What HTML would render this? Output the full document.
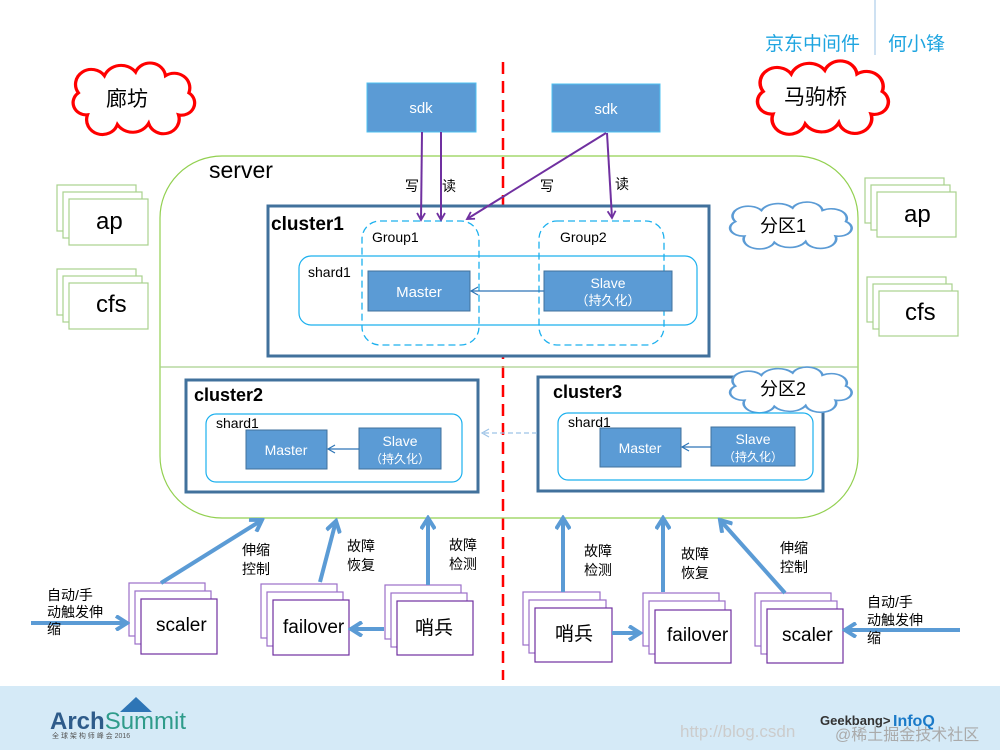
<!DOCTYPE html>
<html><head><meta charset="utf-8"><style>
html,body{margin:0;padding:0;background:#fff}
svg{display:block}
text{font-family:"Liberation Sans","Noto Sans CJK SC",sans-serif}
</style></head><body>
<svg width="1000" height="750" viewBox="0 0 1000 750" xmlns="http://www.w3.org/2000/svg">
<defs>
<path id="cloud" d="M15,40 A10,10 0 0 1 8,22 A12,12 0 0 1 28,8 A14,14 0 0 1 52,5 A12,12 0 0 1 75,8 A12,12 0 0 1 93,22 A10,10 0 0 1 85,40 A12,12 0 0 1 62,47 A14,14 0 0 1 38,48 A12,12 0 0 1 15,40 Z"/>
<marker id="pa" markerWidth="10" markerHeight="10" refX="8" refY="5" orient="auto" markerUnits="userSpaceOnUse"><path d="M1,1 L8,5 L1,9" fill="none" stroke="#7030a0" stroke-width="1.8"/></marker>
<marker id="ba" markerWidth="16" markerHeight="16" refX="13" refY="8" orient="auto" markerUnits="userSpaceOnUse"><path d="M2,1 L13,8 L2,15" fill="none" stroke="#5b9bd5" stroke-width="4"/></marker>
<marker id="ta" markerWidth="10" markerHeight="10" refX="8" refY="5" orient="auto" markerUnits="userSpaceOnUse"><path d="M1,1 L8,5 L1,9" fill="none" stroke="#2e75b6" stroke-width="1.2"/></marker>
<marker id="da" markerWidth="10" markerHeight="10" refX="8" refY="5" orient="auto" markerUnits="userSpaceOnUse"><path d="M1,1 L8,5 L1,9" fill="none" stroke="#9dc3e6" stroke-width="1.2"/></marker>
</defs>

<text x="765" y="50" font-size="19" fill="#1fa5e0">京东中间件</text>
<line x1="875" y1="0" x2="875" y2="55" stroke="#9dc3e6" stroke-width="1"/>
<text x="888" y="50" font-size="19" fill="#1fa5e0">何小锋</text>

<rect x="0" y="686" width="1000" height="64" fill="#d5eaf7"/>
<text x="50" y="729" font-size="24" font-weight="bold" fill="#2e5b8a">Arch<tspan font-weight="normal" fill="#2e9b8a">Summit</tspan></text>
<polygon points="120,712 136,697 152,712" fill="#2e75b6"/>
<text x="52" y="738" font-size="7" fill="#555">全 球 架 构 师 峰 会 2016</text>
<text x="820" y="725" font-size="13" font-weight="bold" fill="#333">Geekbang&gt;</text>
<text x="893" y="726" font-size="16" font-weight="bold" fill="#1a7ac8">InfoQ</text>
<text x="680" y="737" font-size="17" fill="#ccc" font-family="Liberation Mono">http://blog.csdn</text>
<text x="835" y="740" font-size="16" fill="#aaa">@稀土掘金技术社区</text>

<use href="#cloud" transform="translate(68,66) scale(1.3,1.22)" fill="#fff" stroke="#ff0000" stroke-width="2.5" vector-effect="non-scaling-stroke"/>
<text x="106" y="106" font-size="21">廊坊</text>
<use href="#cloud" transform="translate(752,64) scale(1.4,1.25)" fill="#fff" stroke="#ff0000" stroke-width="2.5" vector-effect="non-scaling-stroke"/>
<text x="784" y="104" font-size="21">马驹桥</text>

<line x1="503" y1="62" x2="503" y2="680" stroke="#ff0000" stroke-width="2.5" stroke-dasharray="12,7"/>

<rect x="160" y="156" width="698" height="362" rx="62" fill="none" stroke="#92d050" stroke-width="1.2"/>
<line x1="160" y1="367" x2="858" y2="367" stroke="#a9d18e" stroke-width="1.2"/>
<text x="209" y="178" font-size="23">server</text>

<rect x="367" y="83" width="109" height="49" fill="#5b9bd5" stroke="#4fc0f0" stroke-width="1"/>
<text x="421" y="113" font-size="15" fill="#fff" text-anchor="middle">sdk</text>
<rect x="552" y="84" width="108" height="48" fill="#5b9bd5" stroke="#4fc0f0" stroke-width="1"/>
<text x="606" y="114" font-size="15" fill="#fff" text-anchor="middle">sdk</text>

<g fill="#fff" stroke="#a9d18e" stroke-width="1.2">
<rect x="57" y="185" width="79" height="46"/><rect x="63" y="192" width="79" height="46"/><rect x="69" y="199" width="79" height="46"/>
<rect x="57" y="269" width="79" height="46"/><rect x="63" y="276" width="79" height="46"/><rect x="69" y="283" width="79" height="46"/>
<rect x="865" y="178" width="79" height="45"/><rect x="871" y="185" width="79" height="45"/><rect x="877" y="192" width="79" height="45"/>
<rect x="867" y="277" width="79" height="45"/><rect x="873" y="284" width="79" height="45"/><rect x="879" y="291" width="79" height="45"/>
</g>
<text x="96" y="229" font-size="24">ap</text>
<text x="96" y="312" font-size="24">cfs</text>
<text x="904" y="222" font-size="24">ap</text>
<text x="905" y="320" font-size="24">cfs</text>

<rect x="268" y="206" width="441" height="150" fill="#fff" stroke="#41719c" stroke-width="3"/>
<text x="271" y="230" font-size="19" font-weight="bold">cluster1</text>
<rect x="299" y="256" width="398" height="69" rx="12" fill="none" stroke="#1cb0ee" stroke-width="1.2"/>
<text x="308" y="277" font-size="14">shard1</text>
<rect x="362" y="221" width="117" height="124" rx="18" fill="none" stroke="#1cb0ee" stroke-width="1.3" stroke-dasharray="7,4"/>
<text x="372" y="242" font-size="14">Group1</text>
<rect x="539" y="221" width="125" height="124" rx="18" fill="none" stroke="#1cb0ee" stroke-width="1.3" stroke-dasharray="7,4"/>
<text x="560" y="242" font-size="14">Group2</text>
<rect x="368" y="271" width="102" height="40" fill="#5b9bd5" stroke="#41719c"/>
<text x="419" y="297" font-size="15" fill="#fff" text-anchor="middle">Master</text>
<rect x="544" y="271" width="128" height="40" fill="#5b9bd5" stroke="#41719c"/>
<text x="608" y="288" font-size="14" fill="#fff" text-anchor="middle">Slave</text>
<text x="608" y="305" font-size="13" fill="#fff" text-anchor="middle">（持久化）</text>
<line x1="544" y1="291" x2="471" y2="291" stroke="#2e75b6" stroke-width="1.2" marker-end="url(#ta)"/>

<use href="#cloud" transform="translate(725,204) scale(1.3,0.8)" fill="#fff" stroke="#5b9bd5" stroke-width="2" vector-effect="non-scaling-stroke"/>
<text x="760" y="232" font-size="18">分区1</text>

<rect x="186" y="380" width="292" height="112" fill="#fff" stroke="#41719c" stroke-width="3"/>
<text x="194" y="401" font-size="18" font-weight="bold">cluster2</text>
<rect x="206" y="414" width="256" height="68" rx="10" fill="none" stroke="#1cb0ee" stroke-width="1.2"/>
<text x="216" y="428" font-size="14">shard1</text>
<rect x="246" y="430" width="81" height="39" fill="#5b9bd5" stroke="#41719c"/>
<text x="286" y="455" font-size="14" fill="#fff" text-anchor="middle">Master</text>
<rect x="359" y="428" width="82" height="41" fill="#5b9bd5" stroke="#41719c"/>
<text x="400" y="446" font-size="14" fill="#fff" text-anchor="middle">Slave</text>
<text x="400" y="463" font-size="12" fill="#fff" text-anchor="middle">（持久化）</text>
<line x1="359" y1="449" x2="328" y2="449" stroke="#2e75b6" stroke-width="1.2" marker-end="url(#ta)"/>

<rect x="538" y="377" width="285" height="114" fill="#fff" stroke="#41719c" stroke-width="3"/>
<text x="553" y="398" font-size="18" font-weight="bold">cluster3</text>
<use href="#cloud" transform="translate(725,369) scale(1.3,0.78)" fill="#fff" stroke="#5b9bd5" stroke-width="2" vector-effect="non-scaling-stroke"/>
<text x="760" y="395" font-size="18">分区2</text>
<rect x="558" y="413" width="255" height="67" rx="10" fill="none" stroke="#1cb0ee" stroke-width="1.2"/>
<text x="568" y="427" font-size="14">shard1</text>
<rect x="600" y="428" width="81" height="39" fill="#5b9bd5" stroke="#41719c"/>
<text x="640" y="453" font-size="14" fill="#fff" text-anchor="middle">Master</text>
<rect x="711" y="427" width="84" height="39" fill="#5b9bd5" stroke="#41719c"/>
<text x="753" y="444" font-size="14" fill="#fff" text-anchor="middle">Slave</text>
<text x="753" y="461" font-size="12" fill="#fff" text-anchor="middle">（持久化）</text>
<line x1="711" y1="447" x2="682" y2="447" stroke="#2e75b6" stroke-width="1.2" marker-end="url(#ta)"/>
<line x1="537" y1="433" x2="482" y2="433" stroke="#9dc3e6" stroke-width="1.2" stroke-dasharray="5,3" marker-end="url(#da)"/>

<g stroke="#7030a0" stroke-width="2" fill="none">
<line x1="422" y1="132" x2="421" y2="220" marker-end="url(#pa)"/>
<line x1="441" y1="132" x2="441" y2="220" marker-end="url(#pa)"/>
<line x1="606" y1="133" x2="467" y2="219" marker-end="url(#pa)"/>
<line x1="607" y1="133" x2="612" y2="218" marker-end="url(#pa)"/>
</g>
<text x="405" y="191" font-size="14">写</text>
<text x="442" y="191" font-size="14">读</text>
<text x="540" y="191" font-size="14">写</text>
<text x="615" y="189" font-size="14">读</text>

<g fill="#fff" stroke="#9b6fc9" stroke-width="1.2">
<rect x="129" y="583" width="76" height="53"/><rect x="135" y="591" width="76" height="53"/><rect x="141" y="599" width="76" height="55" stroke="#7030a0"/>
<rect x="261" y="584" width="76" height="54"/><rect x="267" y="592" width="76" height="54"/><rect x="273" y="600" width="76" height="55" stroke="#7030a0"/>
<rect x="385" y="585" width="76" height="54"/><rect x="391" y="593" width="76" height="54"/><rect x="397" y="601" width="76" height="54" stroke="#7030a0"/>
<rect x="523" y="592" width="77" height="53"/><rect x="529" y="600" width="77" height="53"/><rect x="535" y="608" width="77" height="54" stroke="#7030a0"/>
<rect x="643" y="593" width="76" height="53"/><rect x="649" y="601" width="76" height="53"/><rect x="655" y="610" width="76" height="53" stroke="#7030a0"/>
<rect x="755" y="593" width="76" height="53"/><rect x="761" y="601" width="76" height="53"/><rect x="767" y="609" width="76" height="54" stroke="#7030a0"/>
</g>
<text x="156" y="631" font-size="19">scaler</text>
<text x="283" y="633" font-size="19">failover</text>
<text x="415" y="634" font-size="19">哨兵</text>
<text x="555" y="640" font-size="19">哨兵</text>
<text x="667" y="641" font-size="19">failover</text>
<text x="782" y="641" font-size="19">scaler</text>

<g stroke="#5b9bd5" stroke-width="4" fill="none">
<line x1="31" y1="623" x2="127" y2="623" marker-end="url(#ba)"/>
<line x1="161" y1="583" x2="262" y2="520" marker-end="url(#ba)"/>
<line x1="320" y1="582" x2="336" y2="521" marker-end="url(#ba)"/>
<line x1="428" y1="585" x2="428" y2="518" marker-end="url(#ba)"/>
<line x1="384" y1="629" x2="351" y2="629" marker-end="url(#ba)"/>
<line x1="563" y1="592" x2="563" y2="518" marker-end="url(#ba)"/>
<line x1="663" y1="592" x2="663" y2="518" marker-end="url(#ba)"/>
<line x1="785" y1="593" x2="720" y2="520" marker-end="url(#ba)"/>
<line x1="612" y1="633" x2="640" y2="633" marker-end="url(#ba)"/>
<line x1="960" y1="630" x2="845" y2="630" marker-end="url(#ba)"/>
</g>
<g font-size="14">
<text x="47" y="600">自动/手</text><text x="47" y="617">动触发伸</text><text x="47" y="634">缩</text>
<text x="242" y="555">伸缩</text><text x="242" y="574">控制</text>
<text x="347" y="551">故障</text><text x="347" y="570">恢复</text>
<text x="449" y="550">故障</text><text x="449" y="569">检测</text>
<text x="584" y="556">故障</text><text x="584" y="575">检测</text>
<text x="681" y="559">故障</text><text x="681" y="578">恢复</text>
<text x="780" y="553">伸缩</text><text x="780" y="572">控制</text>
<text x="867" y="607">自动/手</text><text x="867" y="625">动触发伸</text><text x="867" y="643">缩</text>
</g>
</svg>
</body></html>
